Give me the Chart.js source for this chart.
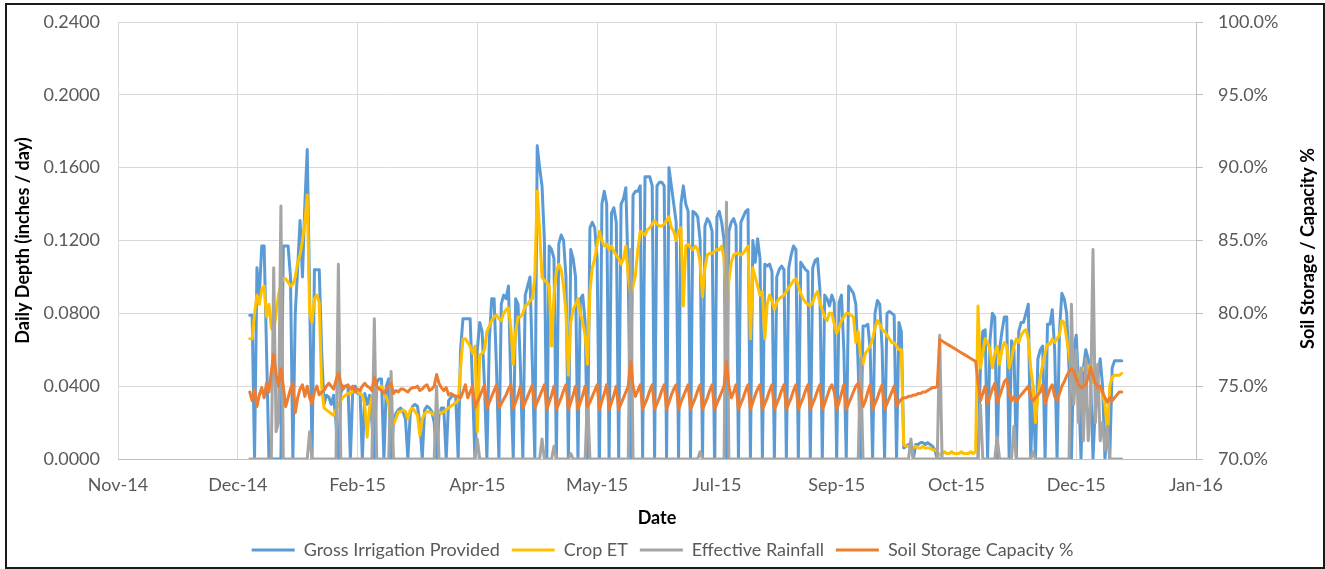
<!DOCTYPE html>
<html>
<head>
<meta charset="utf-8">
<script src="https://cdn.jsdelivr.net/npm/chart.js@4.4.1/dist/chart.umd.min.js"></script>
<style>
  html, body { margin: 0; padding: 0; background: #fff; }
  #wrap { position: relative; width: 1325px; height: 569px; overflow: hidden; }
  #frame { position: absolute; left: 5px; top: 3px; width: 1316px; height: 562px; border: 2px solid #1a1a1a; pointer-events: none; }
  canvas { position: absolute; left: 0; top: 0; }
</style>
</head>
<body>
<div id="wrap">
  <canvas id="chart" width="1325" height="569"></canvas>
  <div id="frame"></div>
</div>
<script>
// Date axis: day counts from 7 Nov 2014, one tick every 50 days
const tickLabels = ['Nov-14', 'Dec-14', 'Feb-15', 'Apr-15', 'May-15', 'Jul-15', 'Sep-15', 'Oct-15', 'Dec-15', 'Jan-16'];
const tickStep = 50;
const firstDayOffset = 55; // 1 Jan 2015

const seriesNames = ['Gross Irrigation Provided', 'Crop ET', 'Effective Rainfall', 'Soil Storage Capacity %'];
const leftAxisTitle = 'Daily Depth (inches / day)';
const rightAxisTitle = 'Soil Storage / Capacity %';
const xAxisTitle = 'Date';

// Daily values, 1 Jan 2015 - 31 Dec 2015 (one row per month), inches / day
const grossIrrigation = [
  0.079,0.079,0,0.105,0.090,0.117,0.117,0.060,0,0,0,0,0,0,0.117,0.117,0.117,0.100,0,0.080,0.105,0.131,0.100,0.140,0.170,0.090,0,0.104,0.104,0.104,0.060,
  0.030,0.035,0.034,0.030,0.035,0.020,0,0.036,0.040,0.040,0.040,0,0.038,0.040,0.036,0.038,0,0.036,0.030,0.035,0.020,0,0.042,0.044,0.044,0,0.040,0.044,
  0,0.020,0.025,0.027,0.028,0.026,0.022,0,0.025,0.029,0.030,0.029,0.020,0,0.027,0.029,0.028,0.026,0.020,0,0.024,0.028,0.028,0,0.032,0.034,0.035,0.034,0,0.060,0.077,
  0.077,0.077,0.077,0.040,0,0.060,0.075,0.070,0.040,0,0.065,0.088,0.088,0.050,0,0.085,0.090,0.088,0.095,0.040,0,0.088,0.085,0.050,0,0.090,0.095,0.100,0.050,0,
  0.172,0.160,0.150,0.120,0,0.117,0.115,0.110,0,0.118,0.123,0.120,0.100,0,0.115,0.110,0.100,0,0.088,0.090,0.075,0,0.127,0.130,0.127,0.110,0,0.140,0.147,0.140,0,
  0.135,0.138,0.130,0,0.140,0.143,0.149,0.100,0,0.145,0.147,0.147,0.150,0,0.155,0.155,0.155,0.150,0,0.150,0.152,0.152,0.150,0,0.160,0.150,0.140,0.130,0,0.140,
  0.150,0.140,0.136,0,0.136,0.135,0.133,0.120,0,0.128,0.132,0.130,0.125,0,0.133,0.136,0.130,0.120,0,0.125,0.130,0.132,0.128,0,0.130,0.133,0.136,0.137,0,0.120,0.108,
  0.121,0.110,0,0.107,0.106,0.107,0.103,0,0.100,0.104,0.106,0.104,0,0.105,0.112,0.117,0.115,0,0.108,0.106,0.104,0.103,0,0.105,0.109,0.110,0.093,0,0.090,0.088,0.084,
  0.090,0.086,0,0.086,0.090,0.060,0,0.095,0.093,0.091,0.085,0.050,0,0.073,0.073,0.074,0.060,0,0.080,0.087,0.085,0.060,0,0.080,0.081,0.080,0.079,0,0.075,0.070,
  0.006,0.007,0.008,0.008,0,0.008,0.008,0.009,0.009,0.008,0.009,0.008,0.007,0.005,0,0,0,0,0,0,0,0,0,0,0,0,0,0,0,0,0,
  0,0.050,0.070,0.071,0,0.065,0.080,0.078,0,0.060,0.070,0.078,0.078,0,0.065,0.060,0,0.070,0.075,0.075,0.080,0.085,0,0.040,0,0.055,0.060,0.062,0,0.074,
  0.074,0.082,0.060,0,0.070,0.091,0.088,0.080,0.050,0,0.060,0.068,0.040,0,0.050,0.060,0.055,0.045,0,0.030,0.045,0.055,0.040,0,0.020,0,0.050,0.054,0.054,0.054,0.054
];

const cropET = [
  0.066,0.066,0.080,0.090,0.085,0.093,0.095,0.078,0.085,0.072,0.070,0.080,0.090,0.096,0.099,0.099,0.097,0.095,0.096,0.100,0.108,0.112,0.120,0.130,0.145,0.080,0.075,0.088,0.090,0.086,0.040,
  0.028,0.027,0.026,0.025,0.024,0.027,0.030,0.032,0.034,0.035,0.036,0.036,0.037,0.038,0.037,0.036,0.035,0.030,0.012,0.028,0.034,0.036,0.038,0.039,0.040,0.036,0.034,0.030,
  0.018,0.019,0.022,0.026,0.026,0.027,0.026,0.022,0.027,0.028,0.026,0.024,0.013,0.022,0.025,0.026,0.026,0.025,0.024,0.025,0.026,0.025,0.026,0.027,0.028,0.029,0.030,0.031,0.032,0.050,0.066,
  0.066,0.064,0.062,0.058,0.062,0.015,0.057,0.058,0.060,0.070,0.073,0.076,0.078,0.079,0.077,0.076,0.080,0.082,0.083,0.072,0.052,0.070,0.078,0.078,0.080,0.084,0.085,0.087,0.088,0.100,
  0.147,0.125,0.100,0.098,0.097,0.095,0.062,0.090,0.103,0.107,0.104,0.095,0.080,0.046,0.075,0.082,0.085,0.088,0.080,0.075,0.068,0.052,0.092,0.105,0.110,0.118,0.125,0.120,0.117,0.118,0.115,
  0.117,0.114,0.112,0.110,0.107,0.110,0.117,0.100,0.090,0.095,0.101,0.115,0.125,0.124,0.123,0.126,0.127,0.129,0.131,0.129,0.128,0.128,0.129,0.131,0.133,0.127,0.125,0.120,0.125,0.127,
  0.084,0.117,0.118,0.116,0.115,0.117,0.115,0.108,0.089,0.105,0.112,0.113,0.113,0.114,0.115,0.115,0.117,0.110,0.077,0.098,0.108,0.112,0.113,0.113,0.112,0.113,0.115,0.117,0.066,0.105,0.100,
  0.095,0.090,0.092,0.066,0.085,0.090,0.087,0.082,0.086,0.088,0.089,0.090,0.092,0.094,0.096,0.098,0.099,0.095,0.091,0.088,0.086,0.085,0.084,0.086,0.090,0.092,0.086,0.082,0.078,0.076,0.080,
  0.080,0.074,0.069,0.072,0.076,0.078,0.080,0.080,0.079,0.078,0.064,0.070,0.056,0.052,0.058,0.060,0.062,0.066,0.072,0.076,0.074,0.071,0.070,0.068,0.066,0.064,0.064,0.062,0.060,0.060,
  0.008,0.007,0.007,0.006,0.006,0.007,0.006,0.006,0.007,0.006,0.006,0.006,0.005,0.005,0.004,0.002,0.003,0.004,0.003,0.003,0.004,0.003,0.003,0.003,0.004,0.003,0.003,0.003,0.004,0.003,0.004,
  0.084,0.050,0.058,0.066,0.064,0.060,0.050,0.058,0.062,0.052,0.060,0.064,0.062,0.050,0.055,0.062,0.066,0.064,0.068,0.070,0.071,0.066,0.050,0.040,0.020,0.035,0.045,0.052,0.058,0.063,
  0.063,0.066,0.064,0.066,0.068,0.076,0.075,0.066,0.058,0.048,0.034,0.044,0.046,0.048,0.050,0.048,0.050,0.052,0.042,0.044,0.040,0.038,0.036,0.030,0.015,0.040,0.045,0.046,0.046,0.046,0.047
];

const effectiveRainfall = [
  0,0,0,0,0,0,0,0,0,0,0.105,0.015,0.020,0.139,0,0,0,0,0,0,0,0,0,0,0,0.015,0,0,0,0,0,
  0,0,0,0,0,0,0.107,0,0,0,0,0,0,0,0,0,0,0,0,0,0,0.077,0,0,0,0,0,0,
  0.048,0,0,0,0,0,0,0,0,0,0,0,0,0,0,0,0,0,0,0.040,0,0,0,0,0,0,0,0,0,0,0,
  0,0,0,0,0,0.011,0,0,0,0,0,0,0,0,0,0,0,0,0,0,0,0,0,0,0,0,0,0,0,0,
  0,0,0.011,0,0,0,0,0.007,0,0,0,0,0,0,0.003,0,0,0,0,0,0,0.035,0,0,0,0,0,0,0,0,0,
  0,0,0,0,0,0,0,0,0.115,0,0,0,0,0,0,0,0,0,0,0,0,0,0,0,0,0,0,0,0,0,
  0,0,0,0,0,0,0,0.004,0,0,0,0,0,0,0,0,0,0,0.141,0,0,0,0,0,0,0,0,0,0,0,0,
  0,0,0,0,0,0,0,0,0,0,0,0,0,0,0,0,0,0,0,0,0,0,0,0,0,0,0,0,0,0,0,
  0,0,0,0,0,0,0,0,0,0,0,0,0.055,0,0,0,0,0,0,0,0,0,0,0,0,0,0,0,0,0,
  0,0,0,0.011,0,0,0,0,0,0,0,0,0,0,0,0.068,0,0,0,0,0,0,0,0,0,0,0,0,0,0,0,
  0,0.030,0,0,0,0,0,0,0.012,0,0,0,0,0,0,0.018,0,0,0,0,0,0,0,0.004,0,0,0,0,0,0,
  0,0,0,0,0,0,0,0,0,0.085,0.030,0.060,0.020,0.050,0.010,0.055,0.010,0.030,0.115,0.020,0.052,0.010,0.020,0.005,0.018,0,0,0,0,0,0
];

// Soil storage as a percentage of capacity (right axis)
const soilStorage = [
  74.6,74.0,74.8,73.6,74.4,74.9,74.2,75.2,74.6,76.0,77.2,75.8,75.0,76.2,75.0,73.6,74.2,74.8,75.2,73.2,74.2,74.8,75.1,74.3,75.0,74.2,73.8,74.6,75.0,74.4,74.6,
  74.7,75.0,75.2,75.0,74.8,75.4,75.9,75.2,74.8,75.0,75.1,74.8,75.0,74.6,74.8,74.7,75.0,75.2,75.0,74.9,74.7,75.6,75.0,74.8,74.7,74.5,74.8,75.0,
  75.2,74.5,74.7,74.6,74.8,74.8,74.7,74.6,74.8,74.9,74.9,75.0,74.7,74.8,75.0,75.1,74.7,74.8,75.0,75.8,75.2,74.9,74.7,74.9,74.4,74.5,74.4,74.3,74.3,74.2,74.6,
  75.1,74.2,74.6,75.0,73.5,73.9,74.3,74.7,75.1,73.5,73.9,74.3,74.7,75.1,73.5,73.8,74.1,74.4,74.8,75.1,73.5,73.9,74.4,75.0,73.5,73.9,74.3,74.7,75.1,73.5,
  73.9,74.3,74.7,75.1,73.4,73.9,74.4,75.0,73.4,73.8,74.2,74.7,75.1,73.4,73.9,74.4,75.0,73.4,73.9,74.4,75.0,73.6,73.9,74.3,74.7,75.1,73.4,74.0,74.5,75.1,73.4,
  73.9,74.4,75.0,73.4,73.8,74.2,74.6,75.0,76.7,75.0,74.3,74.7,75.1,73.4,73.8,74.2,74.7,75.1,73.4,73.8,74.2,74.7,75.1,73.4,73.9,74.4,74.8,75.1,73.4,73.9,
  74.3,74.7,75.1,73.4,73.8,74.2,74.7,75.1,73.4,73.8,74.2,74.7,75.1,73.4,73.8,74.2,74.6,75.0,76.7,75.0,74.2,74.6,75.1,73.4,73.8,74.2,74.7,75.1,73.4,73.9,74.4,
  74.8,75.1,73.4,73.8,74.2,74.7,75.1,73.4,73.8,74.2,74.7,75.1,73.4,73.8,74.2,74.7,75.1,73.4,73.8,74.2,74.7,75.1,73.4,73.8,74.2,74.7,75.1,73.4,73.8,74.3,74.8,
  75.1,74.6,73.4,73.9,74.5,75.1,73.4,73.8,74.2,74.6,75.0,75.2,74.6,73.6,74.0,74.6,75.1,73.4,73.8,74.2,74.7,75.1,73.4,73.8,74.2,74.6,75.0,73.6,73.9,74.1,
  74.2,74.2,74.3,74.3,74.4,74.4,74.5,74.5,74.6,74.6,74.7,74.8,74.9,74.9,75.0,78.2,78.1,78.0,77.9,77.8,77.7,77.6,77.5,77.4,77.3,77.2,77.1,77.0,76.9,76.8,76.7,
  75.3,74.0,74.5,75.0,73.8,74.3,74.8,75.2,73.9,74.3,74.8,75.3,75.5,74.4,74.0,74.3,73.9,74.2,74.4,74.6,74.8,75.0,74.2,74.0,74.2,74.4,74.6,75.1,73.8,74.3,
  74.8,75.1,74.3,74.0,74.5,75.0,75.3,75.7,76.0,76.2,76.0,75.5,75.1,74.9,75.0,75.1,75.6,76.3,75.7,75.2,74.9,75.0,74.6,74.2,73.9,74.2,74.0,74.2,74.4,74.6,74.6
];

const colors = { gross: '#5B9BD5', et: '#FFC000', rain: '#A5A5A5', soil: '#ED7D31' };
const FONT = 'Lato';

const toPoints = (values) => values.map((v, i) => ({ x: firstDayOffset + i, y: v }));

const lineStyle = (color, order, axis) => ({
  borderColor: color,
  backgroundColor: color,
  borderWidth: 3,
  pointRadius: 0,
  pointHoverRadius: 0,
  tension: 0,
  borderJoinStyle: 'round',
  borderCapStyle: 'round',
  order: order,
  yAxisID: axis
});

// Vertical axes: fixed widths, and no extra room reserved above/below the plot
const fitVertical = (width) => (scale) => {
  scale.width = width;
  scale.paddingTop = 0;
  scale.paddingBottom = 0;
};

// Secondary-axis title, written bottom-to-top like the primary one
const rightTitlePlugin = {
  id: 'rightTitle',
  afterDraw(chart) {
    const s = chart.scales.y1;
    const area = chart.chartArea;
    const ctx = chart.ctx;
    ctx.save();
    ctx.font = 'bold 18px ' + FONT;
    ctx.fillStyle = '#000';
    ctx.textAlign = 'center';
    ctx.textBaseline = 'middle';
    ctx.translate(s.right - 12, (area.top + area.bottom) / 2 + 8);
    ctx.rotate(-Math.PI / 2);
    ctx.fillText(rightAxisTitle, 0, 0);
    ctx.restore();
  }
};

new Chart(document.getElementById('chart'), {
  type: 'line',
  data: {
    datasets: [
      { label: seriesNames[0], data: toPoints(grossIrrigation), ...lineStyle(colors.gross, 4, 'y') },
      { label: seriesNames[1], data: toPoints(cropET), ...lineStyle(colors.et, 3, 'y') },
      { label: seriesNames[2], data: toPoints(effectiveRainfall), ...lineStyle(colors.rain, 2, 'y') },
      { label: seriesNames[3], data: toPoints(soilStorage), ...lineStyle(colors.soil, 1, 'y1') }
    ]
  },
  options: {
    responsive: false,
    animation: false,
    devicePixelRatio: 1,
    layout: { padding: { left: 5, right: 5, top: 22, bottom: 0 } },
    interaction: { mode: 'nearest', intersect: false },
    plugins: {
      tooltip: { enabled: false },
      legend: {
        position: 'bottom',
        labels: {
          font: { family: FONT, size: 18 },
          color: '#595959',
          usePointStyle: true,
          pointStyle: 'line',
          pointStyleWidth: 43,
          padding: 12,
          sort: (a, b) => a.datasetIndex - b.datasetIndex
        }
      }
    },
    scales: {
      x: {
        type: 'linear',
        min: 0,
        max: tickStep * (tickLabels.length - 1),
        ticks: {
          stepSize: tickStep,
          autoSkip: false,
          maxRotation: 0,
          color: '#595959',
          font: { family: FONT, size: 18 },
          padding: 15,
          callback: (v) => tickLabels[Math.round(v / tickStep)] ?? ''
        },
        grid: { color: '#D9D9D9', lineWidth: 1, drawTicks: false },
        border: { color: '#BFBFBF' },
        title: {
          display: true,
          text: xAxisTitle,
          color: '#000',
          font: { family: FONT, size: 18, weight: 'bold' },
          padding: { top: 0, bottom: 0 }
        },
        afterFit: (scale) => { scale.height = 70; }
      },
      y: {
        type: 'linear',
        position: 'left',
        min: 0,
        max: 0.24,
        ticks: {
          stepSize: 0.04,
          color: '#595959',
          font: { family: FONT, size: 18 },
          padding: 18,
          callback: (v) => v.toFixed(4)
        },
        grid: { color: '#D9D9D9', lineWidth: 1, drawTicks: false },
        border: { display: false },
        title: {
          display: true,
          text: leftAxisTitle,
          color: '#000',
          font: { family: FONT, size: 18, weight: 'bold' },
          padding: { top: 7, bottom: 0 }
        },
        afterFit: fitVertical(113)
      },
      y1: {
        type: 'linear',
        position: 'right',
        min: 70,
        max: 100,
        ticks: {
          stepSize: 5,
          color: '#595959',
          font: { family: FONT, size: 18 },
          padding: 15,
          callback: (v) => v.toFixed(1) + '%'
        },
        grid: { drawOnChartArea: false, drawTicks: true, tickLength: 7, color: '#BFBFBF' },
        border: { display: true, color: '#BFBFBF' },
        afterFit: fitVertical(124)
      }
    }
  },
  plugins: [rightTitlePlugin]
});
</script>
</body>
</html>
